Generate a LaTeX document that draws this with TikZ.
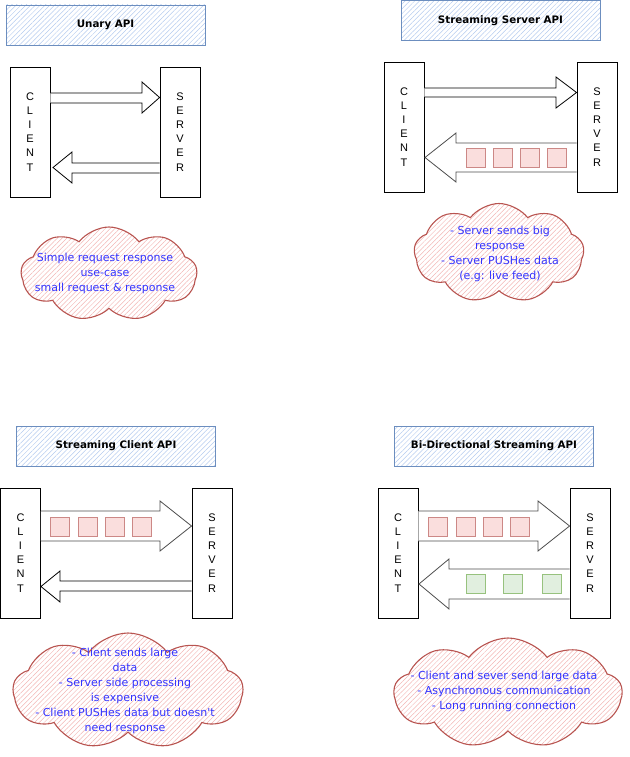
\documentclass[tikz,border=0pt]{standalone}
\usepackage{fontspec}
\setmainfont{Liberation Sans}
\newfontfamily\comicf{DejaVu Sans}
\usetikzlibrary{shapes.symbols,patterns.meta}
\definecolor{tblue}{HTML}{6C8EBF}
\definecolor{thatch}{HTML}{B4CBEE}
\definecolor{cred}{HTML}{B85450}
\definecolor{chatch}{HTML}{F2B6B4}
\definecolor{ctext}{HTML}{3333FF}
\definecolor{pinkf}{HTML}{FADEDD}
\definecolor{greenf}{HTML}{E1EFDF}
\definecolor{greend}{HTML}{97C27E}
\definecolor{pinkd}{HTML}{CC8886}
\definecolor{arrgray}{HTML}{4D4D4D}
\tikzset{
  titlebox/.style={draw=tblue, line width=0.9pt, fill=white,
    pattern={Lines[angle=45,distance=3.4pt,line width=0.5pt]}, pattern color=thatch,
    minimum width=199pt, minimum height=40pt, inner sep=0pt,
    font=\comicf\bfseries\fontsize{10.3}{12}\selectfont},
  endbox/.style={draw=black, line width=0.9pt, minimum width=40pt, minimum height=130pt,
    inner sep=0pt, align=center, font=\fontsize{11}{14.1}\selectfont},
  cloudbg/.style={cloud, cloud puffs=9, cloud puff arc=105, cloud ignores aspect, draw=cred, line width=1.1pt,
    pattern={Lines[angle=45,distance=3.4pt,line width=0.5pt]}, pattern color=chatch,
    inner sep=0pt},
  cloudtxt/.style={align=center, text=ctext, font=\comicf\fontsize{11}{15}\selectfont, inner sep=0pt},
  blockarrow/.style={draw=black, line width=0.8pt, fill=white, line join=miter},
  greyarrow/.style={draw=arrgray, line width=0.8pt, fill=white, line join=miter},
  pinksq/.style={draw=pinkd, fill=pinkf, line width=0.8pt, minimum size=19pt, inner sep=0pt},
  greensq/.style={draw=greend, fill=greenf, line width=0.8pt, minimum size=19pt, inner sep=0pt},
}
\begin{document}
\begin{tikzpicture}[x=1pt,y=-1pt]
\useasboundingbox (0,0) rectangle (629,757);

% ---------------- Panel 1: Unary API
\node[titlebox] (t1) at (105.5,25) {Unary API};
\node[endbox] (c1) at (30,132) {C\\L\\I\\E\\N\\T};
\node[endbox] (s1) at (180,132) {S\\E\\R\\V\\E\\R};
\draw[blockarrow] (c1.east |- 0,93) -- (142,93) -- (142,82) -- (s1.west |- 0,97.5) -- (142,113) -- (142,103) -- (c1.east |- 0,103);
\draw[blockarrow] (s1.west |- 0,163) -- (72,163) -- (72,152) -- (53,167.5) -- (72,183) -- (72,173) -- (s1.west |- 0,173);
\node[cloudbg, minimum width=176pt, minimum height=94pt] (cl1) at (109,274) {};
\node[cloudtxt] (ct1) at (105,273) {Simple request response\\use-case\\small request \& response};

% ---------------- Panel 2: Streaming Server API
\node[titlebox] (t2) at (500.5,20.5) {Streaming Server API};
\node[endbox] (c2) at (404,127) {C\\L\\I\\E\\N\\T};
\node[endbox] (s2) at (597,127) {S\\E\\R\\V\\E\\R};
\draw[blockarrow] (c2.east |- 0,88) -- (556,88) -- (556,77) -- (s2.west |- 0,92.5) -- (556,108) -- (556,97) -- (c2.east |- 0,97);
\draw[greyarrow] (s2.west |- 0,143) -- (456,143) -- (456,133) -- (425,157.5) -- (456,182) -- (456,172) -- (s2.west |- 0,172);
\node[pinksq] (p21) at (476,157.5) {};
\node[pinksq] (p22) at (503,157.5) {};
\node[pinksq] (p23) at (530,157.5) {};
\node[pinksq] (p24) at (557,157.5) {};
\node[cloudbg, minimum width=170pt, minimum height=99pt] (cl2) at (499,253) {};
\node[cloudtxt] (ct2) at (500,254) {- Server sends big\\response\\- Server PUSHes data\\(e.g: live feed)};

% ---------------- Panel 3: Streaming Client API
\node[titlebox] (t3) at (116,446) {Streaming Client API};
\node[endbox] (c3) at (20.5,553) {C\\L\\I\\E\\N\\T};
\node[endbox] (s3) at (212,553) {S\\E\\R\\V\\E\\R};
\draw[greyarrow] (c3.east |- 0,511) -- (160,511) -- (160,501) -- (s3.west |- 0,526) -- (160,551) -- (160,541) -- (c3.east |- 0,541);
\node[pinksq] (p31) at (60,527) {};
\node[pinksq] (p32) at (88,527) {};
\node[pinksq] (p33) at (115,527) {};
\node[pinksq] (p34) at (142,527) {};
\draw[blockarrow] (s3.west |- 0,581) -- (60,581) -- (60,571) -- (c3.east |- 0,586.5) -- (60,602) -- (60,591) -- (s3.west |- 0,591);
\node[cloudbg, minimum width=230pt, minimum height=116pt] (cl3) at (128,691) {};
\node[cloudtxt] (ct3) at (125,691) {- Client sends large\\data\\- Server side processing\\is expensive\\- Client PUSHes data but doesn't\\need response};

% ---------------- Panel 4: Bi-Directional Streaming API
\node[titlebox] (t4) at (494,446) {Bi-Directional Streaming API};
\node[endbox] (c4) at (398,553) {C\\L\\I\\E\\N\\T};
\node[endbox] (s4) at (590,553) {S\\E\\R\\V\\E\\R};
\draw[greyarrow] (c4.east |- 0,511) -- (538,511) -- (538,501) -- (s4.west |- 0,526) -- (538,551) -- (538,541) -- (c4.east |- 0,541);
\node[pinksq] (p41) at (438,527) {};
\node[pinksq] (p42) at (466,527) {};
\node[pinksq] (p43) at (493,527) {};
\node[pinksq] (p44) at (520,527) {};
\draw[greyarrow] (s4.west |- 0,569) -- (449,569) -- (449,559) -- (419,584) -- (449,609) -- (449,599) -- (s4.west |- 0,599);
\node[greensq] (g41) at (476,584) {};
\node[greensq] (g42) at (513,584) {};
\node[greensq] (g43) at (552,584) {};
\node[cloudbg, minimum width=228pt, minimum height=110pt] (cl4) at (508,693) {};
\node[cloudtxt] (ct4) at (504,691) {- Client and sever send large data\\- Asynchronous communication\\- Long running connection};
\end{tikzpicture}
\end{document}
